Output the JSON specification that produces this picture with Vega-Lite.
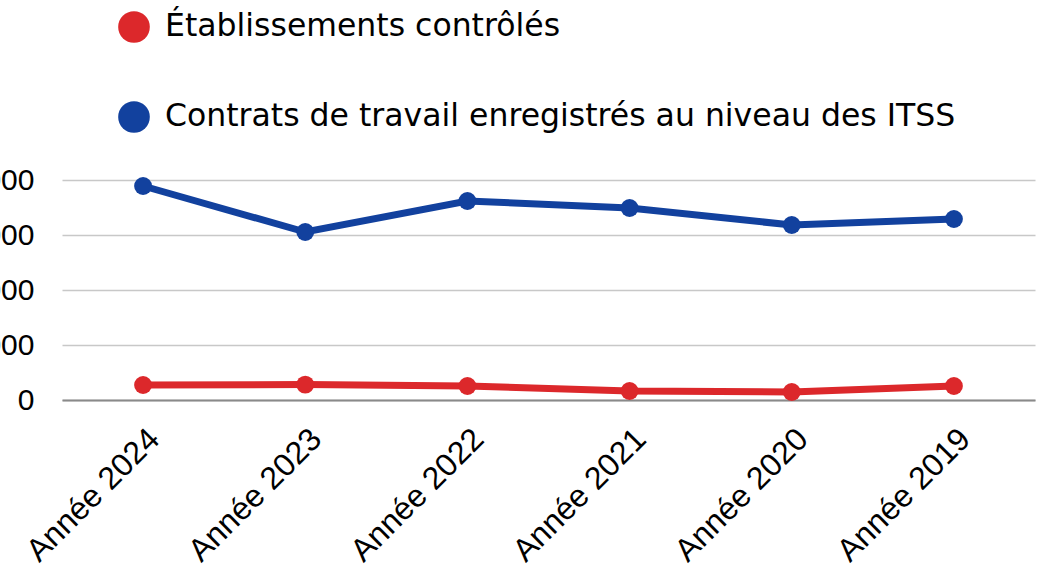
{
  "$schema": "https://vega.github.io/schema/vega-lite/v6.json",
  "width": 973,
  "height": 220,
  "autosize": {"type": "none"},
  "padding": {"left": 62, "top": 180, "right": 6, "bottom": 173},
  "background": "white",
  "data": {"values": [
    {"annee": "Année 2024", "serie": "Établissements contrôlés", "valeur": 2727},
    {"annee": "Année 2023", "serie": "Établissements contrôlés", "valeur": 2800},
    {"annee": "Année 2022", "serie": "Établissements contrôlés", "valeur": 2545},
    {"annee": "Année 2021", "serie": "Établissements contrôlés", "valeur": 1636},
    {"annee": "Année 2020", "serie": "Établissements contrôlés", "valeur": 1455},
    {"annee": "Année 2019", "serie": "Établissements contrôlés", "valeur": 2545},
    {"annee": "Année 2024", "serie": "Contrats de travail enregistrés au niveau des ITSS", "valeur": 38909},
    {"annee": "Année 2023", "serie": "Contrats de travail enregistrés au niveau des ITSS", "valeur": 30545},
    {"annee": "Année 2022", "serie": "Contrats de travail enregistrés au niveau des ITSS", "valeur": 36182},
    {"annee": "Année 2021", "serie": "Contrats de travail enregistrés au niveau des ITSS", "valeur": 34909},
    {"annee": "Année 2020", "serie": "Contrats de travail enregistrés au niveau des ITSS", "valeur": 31818},
    {"annee": "Année 2019", "serie": "Contrats de travail enregistrés au niveau des ITSS", "valeur": 32909}
  ]},
  "mark": {"type": "line", "strokeWidth": 7, "point": {"size": 320, "filled": true, "opacity": 1}},
  "encoding": {
    "x": {
      "field": "annee", "type": "ordinal", "sort": null,
      "scale": {"type": "point", "padding": 0.5},
      "axis": {"title": null, "labelAngle": -45, "labelFont": "Liberation Sans", "labelFontSize": 32, "labelColor": "#000", "ticks": false, "domain": true, "domainColor": "#8a8a8a", "domainWidth": 2, "labelPadding": 23, "grid": false}
    },
    "y": {
      "field": "valeur", "type": "quantitative",
      "scale": {"domain": [0, 40000]},
      "axis": {"title": null, "values": [0, 10000, 20000, 30000, 40000], "format": "d", "labelFont": "Liberation Sans", "labelFontSize": 30, "labelColor": "#000", "ticks": false, "domain": false, "labelPadding": 28, "gridColor": "#c8c8c8", "gridWidth": 1.5}
    },
    "color": {
      "field": "serie", "type": "nominal",
      "scale": {"domain": ["Établissements contrôlés", "Contrats de travail enregistrés au niveau des ITSS"], "range": ["#dc282b", "#12419e"]},
      "legend": {"title": null, "orient": "none", "legendX": 56, "legendY": -169, "direction": "vertical", "symbolType": "circle", "symbolSize": 1000, "symbolStrokeWidth": 0, "labelFont": "DejaVu Sans", "labelFontSize": 31.5, "labelColor": "#000", "labelOffset": 15, "rowPadding": 58, "labelLimit": 900}
    }
  },
  "config": {"view": {"stroke": null}}
}
